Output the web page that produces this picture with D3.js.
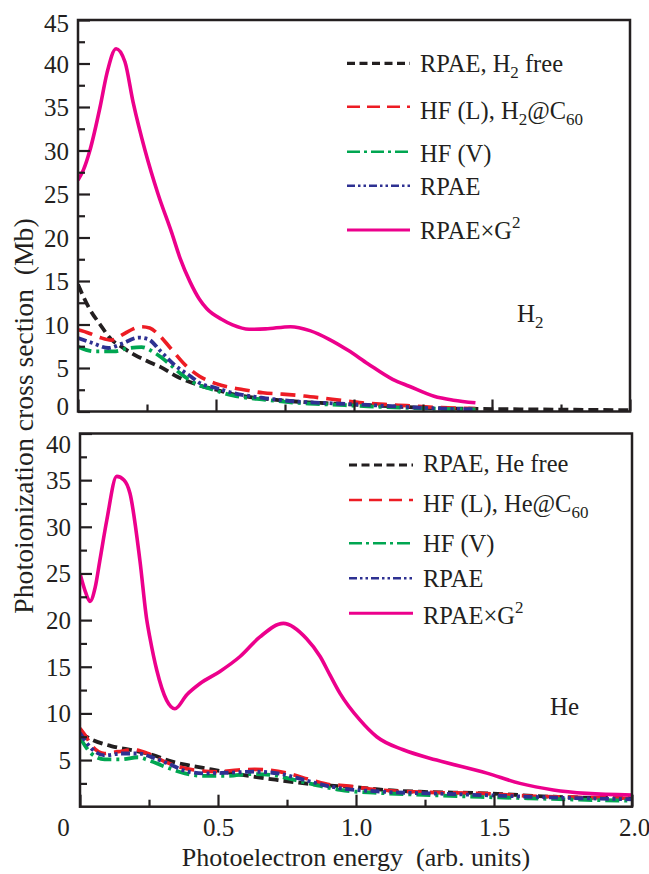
<!DOCTYPE html>
<html>
<head>
<meta charset="utf-8">
<script src="https://cdn.jsdelivr.net/npm/d3@7"></script>
<style>
  html, body { margin: 0; padding: 0; background: #fff; }
  svg { display: block; }
</style>
</head>
<body>
<svg id="chart" width="649" height="874"></svg>
<script>
// ---------------- DATA ----------------
// Top panel: H2 (x = photoelectron energy, y = cross section, Mb)
const h2Free = [[0,14.6],[0.04,11.9],[0.08,10.0],[0.12,8.3],[0.16,7.4],[0.2,6.6],[0.25,5.8],[0.3,5.1],[0.36,4.0],[0.44,3.0],[0.5,2.5],[0.56,2.0],[0.68,1.45],[0.8,1.12],[0.9,0.95],[1.0,0.8],[1.1,0.65],[1.2,0.5],[1.3,0.38],[1.45,0.3],[1.6,0.25],[1.8,0.2],[2.0,0.15]];
const h2HFL = [[0,9.4],[0.04,9.0],[0.08,8.5],[0.12,8.2],[0.16,8.8],[0.2,9.5],[0.23,9.75],[0.26,9.6],[0.29,8.9],[0.34,7.1],[0.39,5.3],[0.44,4.05],[0.5,3.2],[0.6,2.5],[0.67,2.15],[0.74,2.0],[0.82,1.78],[0.89,1.52],[0.96,1.25],[1.03,1.0],[1.11,0.82],[1.19,0.67],[1.29,0.48],[1.44,0.35]];
const h2HFV = [[0,7.45],[0.06,6.9],[0.13,6.9],[0.18,7.26],[0.23,7.4],[0.28,6.7],[0.33,5.5],[0.37,4.4],[0.44,3.0],[0.47,2.7],[0.56,1.85],[0.68,1.35],[0.8,0.98],[0.92,0.8],[1.05,0.6],[1.17,0.45],[1.29,0.33],[1.44,0.25]];
const h2RPAE = [[0,8.45],[0.05,7.9],[0.11,7.3],[0.16,7.8],[0.22,8.5],[0.255,8.3],[0.3,6.9],[0.35,5.35],[0.41,4.0],[0.44,3.3],[0.5,2.7],[0.56,2.15],[0.68,1.52],[0.8,1.13],[0.92,0.94],[1.05,0.75],[1.17,0.55],[1.29,0.37],[1.44,0.25]];
const h2RPAEG2 = [[0,26.6],[0.02,27.8],[0.043,30.0],[0.08,35.0],[0.105,38.9],[0.138,41.7],[0.17,40.2],[0.2,35.5],[0.243,30.0],[0.29,25.0],[0.34,20.5],[0.37,17.6],[0.406,14.9],[0.44,12.9],[0.467,11.8],[0.52,10.6],[0.56,9.95],[0.62,9.45],[0.68,9.5],[0.77,9.75],[0.84,9.3],[0.91,8.3],[0.98,7.0],[1.05,5.5],[1.14,3.7],[1.2,2.9],[1.29,1.75],[1.36,1.3],[1.44,1.0]];

// Bottom panel: He
const heFree = [[0,7.9],[0.011,7.7],[0.05,7.1],[0.113,6.5],[0.198,6.0],[0.258,5.6],[0.331,4.85],[0.391,4.45],[0.476,4.0],[0.56,3.55],[0.633,3.2],[0.717,2.86],[0.814,2.5],[0.91,2.25],[1.0,2.1],[1.1,1.8],[1.232,1.6],[1.47,1.43],[1.71,1.07],[2.0,0.9]];
const heHFL = [[0,8.4],[0.02,7.6],[0.041,6.6],[0.089,5.7],[0.138,5.9],[0.198,6.1],[0.246,5.7],[0.295,5.0],[0.355,4.3],[0.415,3.93],[0.5,3.75],[0.572,3.93],[0.633,4.0],[0.681,3.93],[0.754,3.57],[0.838,2.86],[0.91,2.35],[0.942,2.3],[1.087,1.79],[1.268,1.54],[1.449,1.43],[1.63,1.15],[1.81,1.0],[2.0,0.9]];
const heHFV = [[0,7.4],[0.041,5.7],[0.089,5.08],[0.15,5.08],[0.21,5.3],[0.246,5.0],[0.307,4.3],[0.38,3.57],[0.452,3.3],[0.536,3.3],[0.62,3.5],[0.693,3.4],[0.778,2.86],[0.91,1.97],[0.942,1.8],[1.1,1.45],[1.268,1.25],[1.45,1.05],[1.63,0.9],[1.81,0.75],[2.0,0.64]];
const heRPAE = [[0,7.9],[0.041,6.26],[0.089,5.5],[0.15,5.7],[0.21,5.7],[0.27,5.2],[0.331,4.47],[0.391,3.75],[0.452,3.57],[0.536,3.64],[0.633,3.75],[0.717,3.57],[0.814,2.86],[0.91,2.14],[1.1,1.6],[1.3,1.4],[1.5,1.2],[1.7,1.0],[2.0,0.8]];
const heRPAEG2 = [[0,25.0],[0.02,23.0],[0.036,22.0],[0.055,23.5],[0.072,26.4],[0.097,30.7],[0.133,35.4],[0.16,35.0],[0.181,33.6],[0.217,26.4],[0.242,20.0],[0.254,18.0],[0.278,14.65],[0.314,11.4],[0.344,10.5],[0.387,12.0],[0.435,13.2],[0.507,14.5],[0.58,16.1],[0.652,18.2],[0.737,19.65],[0.821,18.0],[0.87,16.1],[0.906,14.1],[0.942,12.15],[1.014,9.3],[1.075,7.5],[1.171,6.1],[1.292,5.0],[1.474,3.6],[1.594,2.5],[1.715,1.8],[1.836,1.43],[2.0,1.25]];

// Tick values / labels
const xMajorTicks = [0, 0.5, 1.0, 1.5, 2.0];
const xMinorTicks = [0.25, 0.75, 1.25, 1.75];
const xTickLabels = ["0", "0.5", "1.0", "1.5", "2.0"];
const topYMajor = [0, 5, 10, 15, 20, 25, 30, 35, 40, 45];
const topYMinor = [2.5, 7.5, 12.5, 17.5, 22.5, 27.5, 32.5, 37.5, 42.5];
const botYMajor = [5, 10, 15, 20, 25, 30, 35, 40];
const botYMinor = [2.5, 7.5, 12.5, 17.5, 22.5, 27.5, 32.5, 37.5];

// Legend labels (parts: [text, kind])
const topLegend = [
  [["RPAE, H"], ["2", "sub"], [" free"]],
  [["HF (L), H"], ["2", "sub"], ["@C"], ["60", "sub"]],
  [["HF (V)"]],
  [["RPAE"]],
  [["RPAE\u00d7G"], ["2", "sup"]]
];
const botLegend = [
  [["RPAE, He free"]],
  [["HF (L), He@C"], ["60", "sub"]],
  [["HF (V)"]],
  [["RPAE"]],
  [["RPAE\u00d7G"], ["2", "sup"]]
];
const xTitle = "Photoelectron energy\u00a0 (arb. units)";
const yTitle = "Photoionization cross section\u00a0 (Mb)";

// ---------------- STYLES ----------------
const FONT = "'Liberation Serif', 'Times New Roman', Times, serif";
const styles = [
  { color: "#231f20", dash: "10,5",           lw: 3.8, lgw: 3.2, lgdash: "8,4.5" },
  { color: "#ed1c24", dash: "15,8",           lw: 3.6, lgw: 2.4, lgdash: "13,7" },
  { color: "#00a651", dash: "14,5,3,5",       lw: 3.8, lgw: 2.6, lgdash: "13,4,3,4" },
  { color: "#2e3192", dash: "9,3.5,3,3.5,3,3.5", lw: 3.8, lgw: 2.6, lgdash: "8,3,2.5,3,2.5,3" },
  { color: "#ec008c", dash: null,             lw: 3.6, lgw: 3.0, lgdash: null }
];

const svg = d3.select("#chart").attr("font-family", FONT).style("font-family", FONT);

function drawPanel(cfg) {
  const x = d3.scaleLinear().domain([0, 2]).range([cfg.left, cfg.right]);
  const y = d3.scaleLinear().domain([0, cfg.ymax]).range([cfg.bottom, cfg.top]);
  const g = svg.append("g");

  const clipId = "clip" + cfg.id;
  svg.append("clipPath").attr("id", clipId).append("rect")
    .attr("x", cfg.left).attr("y", cfg.top)
    .attr("width", cfg.right - cfg.left).attr("height", cfg.bottom - cfg.top);

  const line = d3.line()
    .x(d => x(d[0])).y(d => y(d[1]))
    .curve(d3.curveMonotoneX);

  const cg = g.append("g").attr("clip-path", `url(#${clipId})`);
  cfg.series.forEach((s, i) => {
    const st = styles[i];
    cg.append("path").datum(s)
      .attr("d", line)
      .attr("fill", "none")
      .attr("stroke", st.color)
      .attr("stroke-width", st.lw)
      .attr("stroke-dasharray", st.dash)
      .attr("stroke-linecap", "butt")
      .attr("stroke-linejoin", "round");
  });

  const yAxisMajor = d3.axisLeft(y).tickValues(cfg.yMajor).tickSizeInner(-12).tickSizeOuter(0).tickPadding(10)
    .tickFormat(d3.format("d"));
  const yAxisMinor = d3.axisLeft(y).tickValues(cfg.yMinor).tickSizeInner(-7).tickSizeOuter(0).tickFormat("");
  const xAxisMajor = d3.axisBottom(x).tickValues(xMajorTicks).tickSizeInner(-12).tickSizeOuter(0)
    .tickFormat((d, i) => cfg.xLabels ? xTickLabels[i] : "").tickPadding(12);
  const xAxisMinor = d3.axisBottom(x).tickValues(xMinorTicks).tickSizeInner(-7).tickSizeOuter(0).tickFormat("");

  const ay = g.append("g").attr("transform", `translate(${cfg.left},0)`).call(yAxisMajor);
  const ay2 = g.append("g").attr("transform", `translate(${cfg.left},0)`).call(yAxisMinor);
  const ax = g.append("g").attr("transform", `translate(0,${cfg.bottom})`).call(xAxisMajor);
  const ax2 = g.append("g").attr("transform", `translate(0,${cfg.bottom})`).call(xAxisMinor);
  [ay, ay2, ax, ax2].forEach(a => {
    a.attr("font-family", FONT).attr("font-size", 25);
    a.select(".domain").remove();
    a.selectAll("line").attr("stroke", "#231f20").attr("stroke-width", 2.2);
    a.selectAll("text").attr("fill", "#231f20").style("font-family", FONT);
  });
  ay.selectAll("text").attr("dy", d => (cfg.yLabelShift[d] || 0) + 8.5).attr("x", -9);
  ax.selectAll("text").attr("dy", "0.71em")
    .attr("x", (d) => d === 0 ? -17 : (d === 2 ? 2 : 0));

  g.append("rect")
    .attr("x", cfg.left).attr("y", cfg.top)
    .attr("width", cfg.right - cfg.left).attr("height", cfg.bottom - cfg.top)
    .attr("fill", "none").attr("stroke", "#231f20").attr("stroke-width", 2.5);

  const lg = g.append("g");
  cfg.legend.forEach((parts, i) => {
    const st = styles[i];
    const ly = cfg.legendY[i];
    lg.append("line")
      .attr("x1", cfg.legendX0).attr("x2", cfg.legendX1)
      .attr("y1", ly).attr("y2", ly)
      .attr("stroke", st.color).attr("stroke-width", st.lgw)
      .attr("stroke-dasharray", st.lgdash);
    const t = lg.append("text")
      .attr("x", cfg.legendTextX).attr("y", cfg.legendBase[i])
      .attr("fill", "#231f20")
      .attr("font-size", 24.5);
    let shift = 0;
    parts.forEach(p => {
      const ts = t.append("tspan").text(p[0]);
      const target = p[1] === "sub" ? 6 : (p[1] === "sup" ? -11 : 0);
      if (p[1]) ts.attr("font-size", 17);
      ts.attr("dy", target - shift);
      shift = target;
    });
  });

  const pl = g.append("text").attr("x", cfg.labelX).attr("y", cfg.labelY)
    .attr("fill", "#231f20").attr("font-size", 25);
  cfg.label.forEach(p => {
    const ts = pl.append("tspan").text(p[0]);
    if (p[1] === "sub") ts.attr("font-size", 17).attr("dy", 6);
  });
}

drawPanel({
  id: "top", left: 78, right: 630, top: 20, bottom: 411.5, ymax: 45,
  yMajor: topYMajor, yMinor: topYMinor, xLabels: false,
  yLabelShift: { 45: 3, 0: -6 },
  series: [h2Free, h2HFL, h2HFV, h2RPAE, h2RPAEG2],
  legend: topLegend,
  legendY: [63.3, 106.7, 151.7, 185.7, 230],
  legendBase: [72, 118.5, 162, 195, 238.5],
  legendX0: 347, legendX1: 410, legendTextX: 420,
  label: [["H"], ["2", "sub"]], labelX: 517, labelY: 322
});

drawPanel({
  id: "bot", left: 80, right: 632, top: 433.5, bottom: 806.7, ymax: 40,
  yMajor: botYMajor, yMinor: botYMinor, xLabels: true,
  yLabelShift: { 40: 10 },
  series: [heFree, heHFL, heHFV, heRPAE, heRPAEG2],
  legend: botLegend,
  legendY: [465, 500, 543.3, 578.3, 613.3],
  legendBase: [472, 512, 552, 587, 623.5],
  legendX0: 349, legendX1: 413, legendTextX: 423,
  label: [["He"]], labelX: 550, labelY: 715
});

svg.append("text")
  .attr("transform", "translate(33,416) rotate(-90)")
  .attr("text-anchor", "middle")
  .attr("fill", "#231f20")
  .attr("font-size", 27.7)
  .text(yTitle);

svg.append("text")
  .attr("x", 356).attr("y", 866)
  .attr("text-anchor", "middle")
  .attr("fill", "#231f20")
  .attr("font-size", 26)
  .text(xTitle);
</script>
</body>
</html>
